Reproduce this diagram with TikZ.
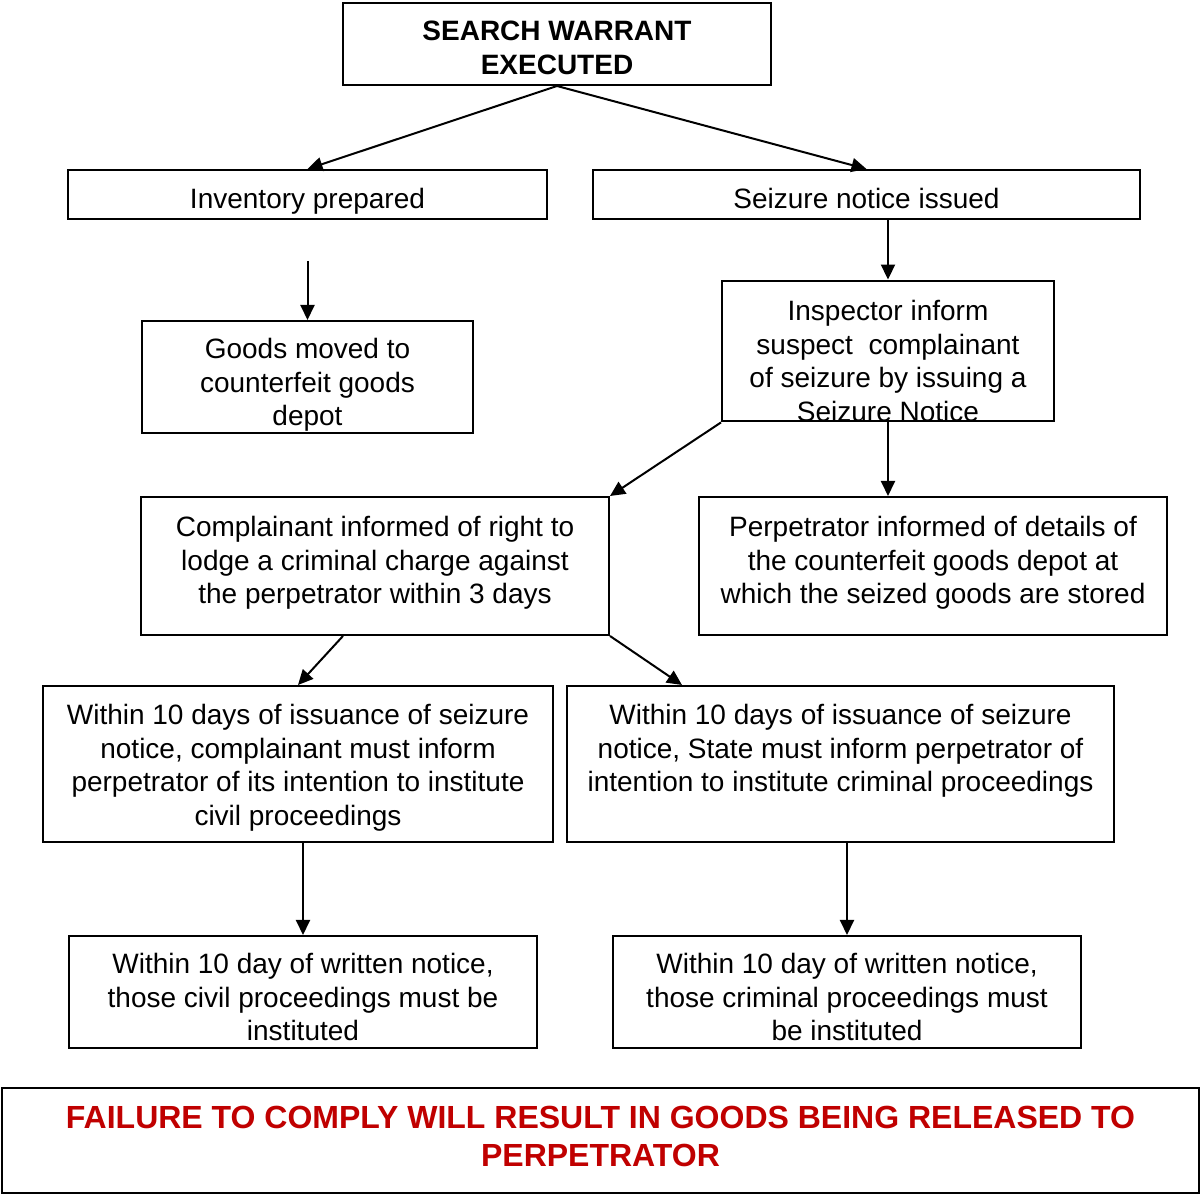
\documentclass[tikz,border=0pt]{standalone}
\usepackage{fontspec}
\setmainfont{Liberation Sans}
\usepackage{tikz}
\usetikzlibrary{arrows.meta,positioning}

\definecolor{failred}{RGB}{192,0,0}

\begin{document}
\begin{tikzpicture}[x=1pt, y=1pt, line width=1pt,
  font=\fontsize{14}{16.75}\selectfont,
  >={Triangle[length=7.5pt,width=7pt]},
  box/.style={draw, align=center, inner sep=0pt, text depth=#1},
  box/.default=0pt,
  heading/.style={box=#1, font=\bfseries\fontsize{14}{16.75}\selectfont}]
\useasboundingbox (0,0) rectangle (600.5,-598.5);

% top of the chart
\node[heading=0pt, text height=30.25pt, minimum width=214pt, minimum height=41pt] (warrant) at (278.5,-22)
      {SEARCH WARRANT\\EXECUTED};
\node[box, text height=13.7pt, minimum width=239.5pt, minimum height=24.5pt] (inventory) at (153.75,-97.25)
      {Inventory prepared};
\node[box, text height=13.7pt, minimum width=273.5pt, minimum height=24.5pt] (notice) at (433.25,-97.25)
      {Seizure notice issued};
\node[box, text height=48.7pt, minimum width=165.5pt, minimum height=56pt] (depot) at (153.75,-188.5)
      {Goods moved to\\counterfeit goods\\depot};
\node[box, text height=70.45pt, minimum width=166pt, minimum height=69pt] (inspector) at (444,-175.5)
      {Inspector inform\\suspect~ complainant\\of seizure by issuing a\\Seizure Notice};

% middle rows
\node[box=6pt, minimum width=234pt, minimum height=69pt] (complain) at (187.5,-283)
      {Complainant informed of right to\\lodge a criminal charge against\\the perpetrator within 3 days};
\node[box=6pt, minimum width=234pt, minimum height=69pt] (perp) at (466.5,-283)
      {Perpetrator informed of details of\\the counterfeit goods depot at\\which the seized goods are stored};
\node[box, text height=61.45pt, minimum width=255pt, minimum height=78pt] (civil) at (149,-382)
      {Within 10 days of issuance of seizure\\notice, complainant must inform\\perpetrator of its intention to institute\\civil proceedings};
\node[box=16pt, minimum width=273.5pt, minimum height=78pt] (state) at (420.25,-382)
      {Within 10 days of issuance of seizure\\notice, State must inform perpetrator of\\intention to institute criminal proceedings};
\node[box, text height=48.7pt, minimum width=234pt, minimum height=56pt] (civinst) at (151.5,-496)
      {Within 10 day of written notice,\\those civil proceedings must be\\instituted};
\node[box, text height=48.7pt, minimum width=234pt, minimum height=56pt] (crimeinst) at (423.5,-496)
      {Within 10 day of written notice,\\those criminal proceedings must\\be instituted};

% warning at the bottom
\node[box=4pt, line width=1.4pt, minimum width=598.5pt, minimum height=52.5pt,
      text=failred, font=\bfseries\fontsize{16}{19}\selectfont] (failure) at (300.25,-570.25)
      {FAILURE TO COMPLY WILL RESULT IN GOODS BEING RELEASED TO\\PERPETRATOR};

\coordinate (invgap) at ([yshift=-20.5pt]inventory.south);

\path[->] (warrant.south) edge (inventory.north)
          (warrant.south) edge (notice.north)
          (invgap) edge (depot.north);
\path[->] (inspector.north |- notice.south) edge (inspector.north)
          (inspector.south west) edge (complain.north east)
          (inspector.south) edge (inspector.south |- perp.north);
\path[->] ([xshift=-16pt]complain.south) edge (civil.north)
          (complain.south east) edge ([xshift=58pt]state.north west);
\path[->] (civinst.north |- civil.south) edge (civinst.north)
          (crimeinst.north |- state.south) edge (crimeinst.north);
\end{tikzpicture}
\end{document}
